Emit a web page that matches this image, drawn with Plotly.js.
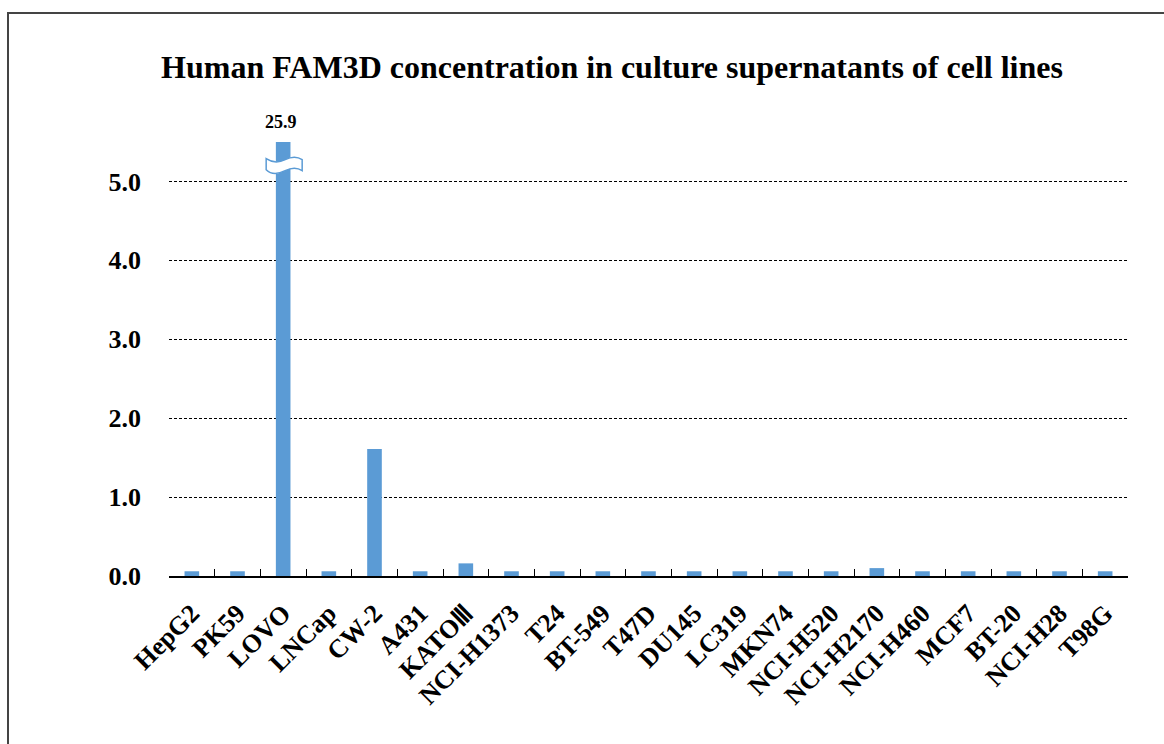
<!DOCTYPE html>
<html>
<head>
<meta charset="utf-8">
<script src="https://cdn.plot.ly/plotly-3.0.1.min.js"></script>
<style>
  html, body { margin: 0; padding: 0; background: #fff; }
  #wrap { position: relative; width: 1164px; height: 744px; overflow: hidden; }
  #frame { position: absolute; left: 7px; top: 12px; width: 1200px; height: 800px;
           border-left: 2px solid #444; border-top: 2px solid #444; pointer-events: none; z-index: 5; }
  #chart { position: absolute; left: 0; top: 0; width: 1164px; height: 744px; }
</style>
</head>
<body>
<div id="wrap">
  <div id="chart"></div>
  <div id="frame"></div>
</div>
<script>
// Chart title
const chartTitle = "Human FAM3D concentration in culture supernatants of cell lines";
// Cell lines (categories)
const cellLines = ["HepG2", "PK59", "LOVO", "LNCap", "CW-2", "A431", "KATOⅢ", "NCI-H1373",
  "T24", "BT-549", "T47D", "DU145", "LC319", "MKN74", "NCI-H520", "NCI-H2170",
  "NCI-H460", "MCF7", "BT-20", "NCI-H28", "T98G"];
// FAM3D concentration values
const concentrations = [0.06, 0.06, 25.9, 0.06, 1.61, 0.06, 0.16, 0.06,
  0.06, 0.06, 0.06, 0.06, 0.06, 0.06, 0.06, 0.10,
  0.06, 0.06, 0.06, 0.06, 0.06];
// y axis ticks
const yTickVals = [0, 1, 2, 3, 4, 5];
const yTickText = ["0.0", "1.0", "2.0", "3.0", "4.0", "5.0"];
const axisMax = 5.5;   // broken axis top

const FONT = "Liberation Serif, Times New Roman, serif";
const BLUE = "#5B9BD5";

const shown = concentrations.map(v => Math.min(v, axisMax));

const trace = {
  type: "bar",
  x: cellLines,
  y: shown,
  marker: { color: BLUE },
  hoverinfo: "x+y"
};

const brokenIdx = concentrations.findIndex(v => v > axisMax);

const annotations = [];
const shapes = [];
if (brokenIdx >= 0) {
  annotations.push({
    x: cellLines[brokenIdx], y: axisMax, xref: "x", yref: "y",
    text: concentrations[brokenIdx].toFixed(1),
    showarrow: false, yanchor: "bottom", yshift: 8, xshift: -2,
    font: { family: FONT, size: 18, color: "#000", weight: "bold" }
  });
  shapes.push({
    type: "path",
    xref: "x", yref: "y",
    xsizemode: "pixel", ysizemode: "pixel",
    xanchor: brokenIdx, yanchor: 5.2,
    path: "M -17,-4 C -11,-10 -4,-8 2,-5 C 8,-2 13,-1 19,-5 L 19,6 C 13,10 8,9 2,6 C -4,3 -11,3 -17,7 Z",
    fillcolor: "#fff",
    line: { color: BLUE, width: 1.5 },
    layer: "above"
  });
}

const layout = {
  width: 1164, height: 744,
  margin: { l: 169, r: 36, t: 142, b: 168 },
  paper_bgcolor: "#fff", plot_bgcolor: "#fff",
  showlegend: false,
  bargap: 0.68,
  font: { family: FONT, color: "#000" },
  title: {
    text: chartTitle,
    font: { family: FONT, size: 32, color: "#000", weight: "bold" },
    xref: "container", x: 612 / 1164, xanchor: "center",
    yref: "container", y: 1 - 67 / 744, yanchor: "middle"
  },
  xaxis: {
    type: "category",
    tickangle: -45,
    tickfont: { family: FONT, size: 26, color: "#000", weight: "bold" },
    showline: true, linecolor: "#000", linewidth: 1.5,
    ticks: "inside", tickson: "boundaries", ticklen: 7, tickcolor: "#000", tickwidth: 1.2,
    ticklabelstandoff: 10,
    showgrid: false, zeroline: false,
    fixedrange: true
  },
  yaxis: {
    range: [0, axisMax],
    tickvals: yTickVals, ticktext: yTickText,
    tickfont: { family: FONT, size: 26, color: "#000", weight: "bold" },
    showgrid: true, gridcolor: "#000", gridwidth: 1, griddash: "3px,2px",
    zeroline: false, showline: false, ticks: "",
    ticklabelstandoff: 27,
    fixedrange: true
  },
  annotations: annotations,
  shapes: shapes
};

Plotly.newPlot("chart", [trace], layout, { displayModeBar: false });
</script>
</body>
</html>
